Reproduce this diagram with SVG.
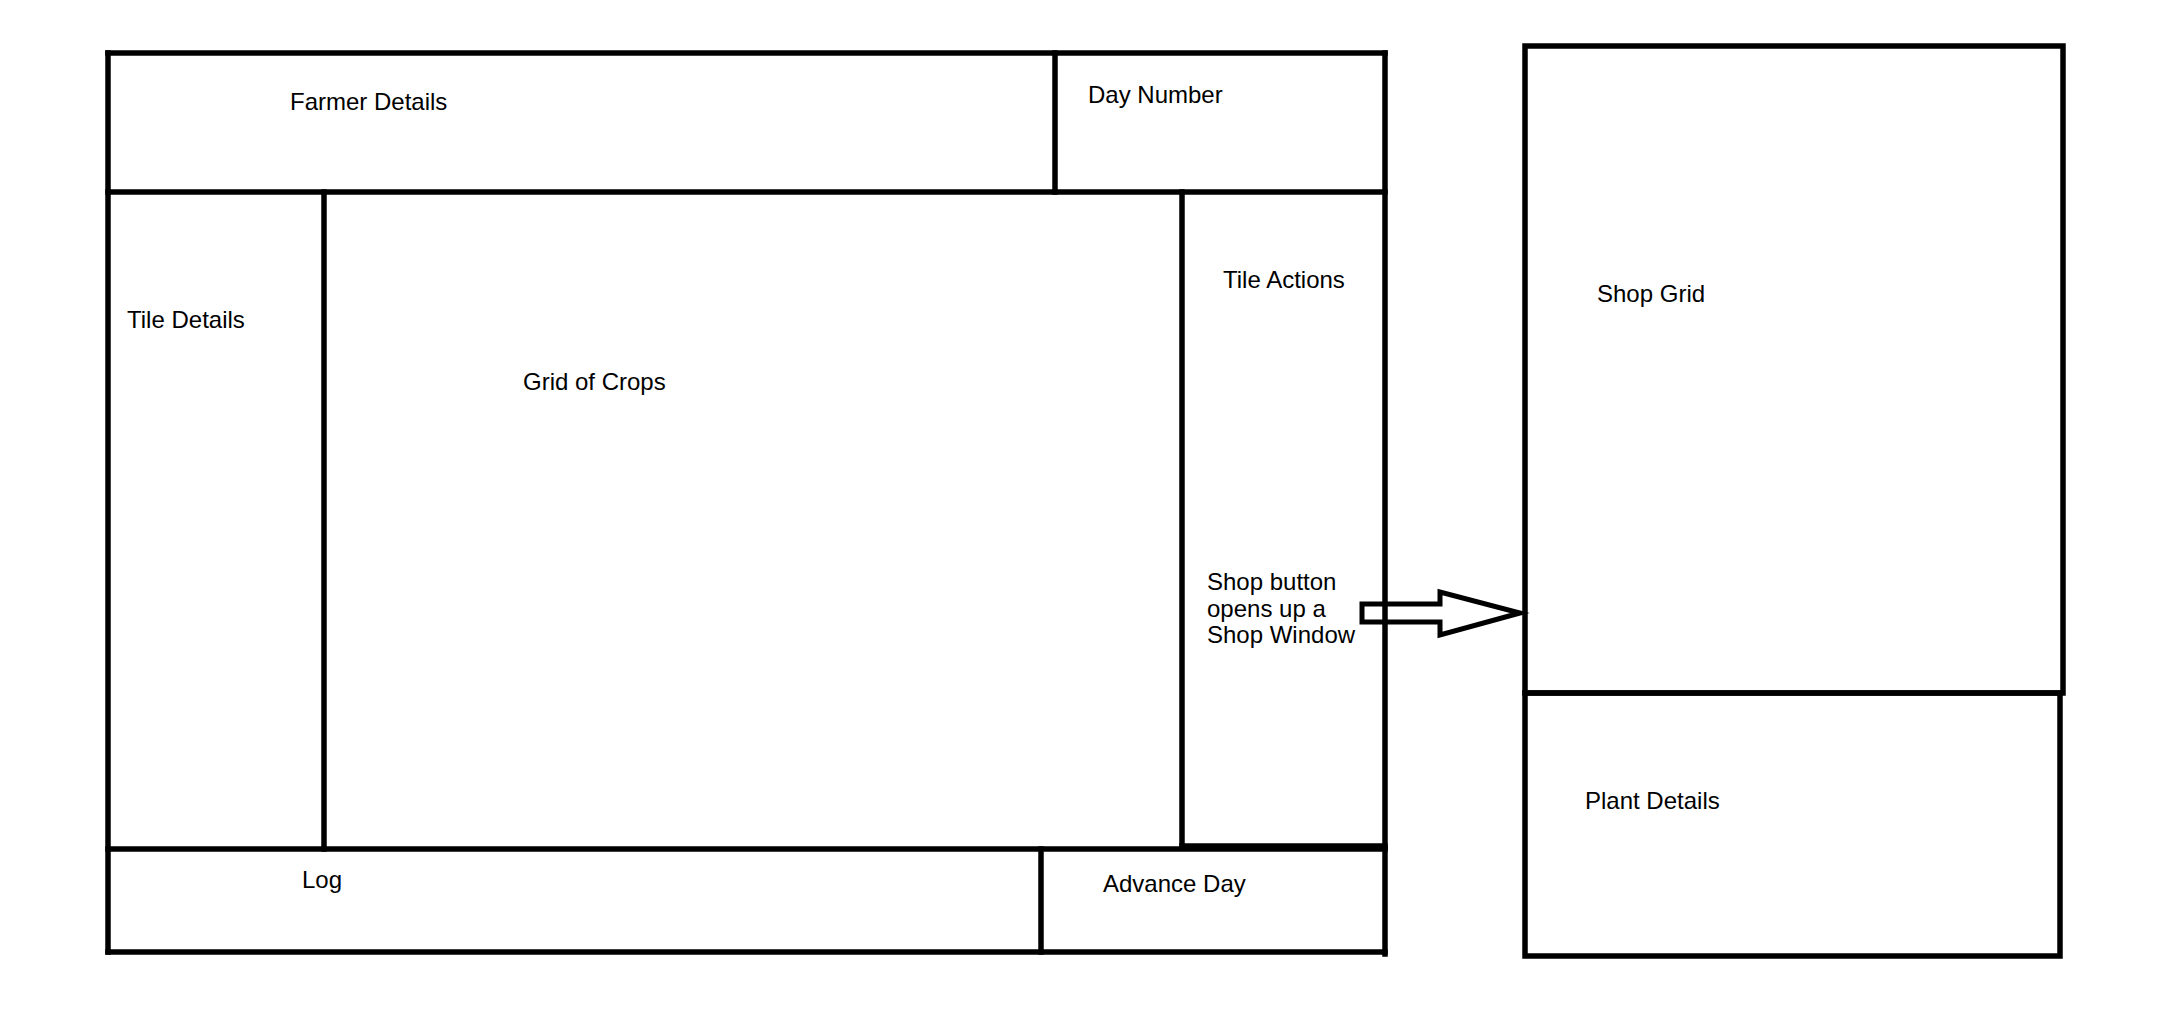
<svg xmlns="http://www.w3.org/2000/svg" width="2174" height="1024" viewBox="0 0 2174 1024">
<style>
.ln{stroke:#000;stroke-width:5.5;fill:none;stroke-linecap:square}
.bx{stroke:#000;stroke-width:5.5;fill:none}
.t{font-family:"Liberation Sans",Arial,sans-serif;font-size:24px;fill:#000}
</style>
<rect width="2174" height="1024" fill="#fff"/>
<g id="main-window">
<line class="ln" x1="108" y1="53" x2="1385" y2="53"/>
<line class="ln" x1="108" y1="53" x2="108" y2="952"/>
<line class="ln" x1="1385" y1="53" x2="1385" y2="954"/>
<line class="ln" x1="108" y1="192" x2="1385" y2="192"/>
<line class="ln" x1="108" y1="849" x2="1385" y2="849"/>
<line class="ln" x1="108" y1="952" x2="1385" y2="952"/>
</g>
<g id="farmer-details">
<text class="t" x="290" y="110">Farmer Details</text>
</g>
<g id="day-number">
<line class="ln" x1="1055" y1="53" x2="1055" y2="192"/>
<text class="t" x="1088" y="103">Day Number</text>
</g>
<g id="tile-details">
<line class="ln" x1="324" y1="192" x2="324" y2="849"/>
<text class="t" x="127" y="328">Tile Details</text>
</g>
<g id="grid-of-crops">
<text class="t" x="523" y="390">Grid of Crops</text>
</g>
<g id="tile-actions">
<line class="ln" x1="1182" y1="192" x2="1182" y2="846"/>
<line class="ln" x1="1182" y1="846" x2="1385" y2="846"/>
<text class="t" x="1223" y="288">Tile Actions</text>
<text class="t" x="1207" y="590">Shop button</text>
<text class="t" x="1207" y="617">opens up a</text>
<text class="t" x="1207" y="643">Shop Window</text>
</g>
<g id="log">
<text class="t" x="302" y="888">Log</text>
</g>
<g id="advance-day">
<line class="ln" x1="1041" y1="849" x2="1041" y2="952"/>
<text class="t" x="1103" y="892">Advance Day</text>
</g>
<g id="shop-grid">
<rect class="bx" x="1525" y="46" width="538" height="647"/>
<text class="t" x="1597" y="302">Shop Grid</text>
</g>
<g id="plant-details">
<rect class="bx" x="1525" y="693" width="535" height="263"/>
<text class="t" x="1585" y="809">Plant Details</text>
</g>
<g id="connectors">
<polygon points="1362,604 1440,604 1440,592 1520,613 1440,635 1440,622 1362,622" fill="none" stroke="#000" stroke-width="5" stroke-linejoin="miter"/>
</g>
</svg>
